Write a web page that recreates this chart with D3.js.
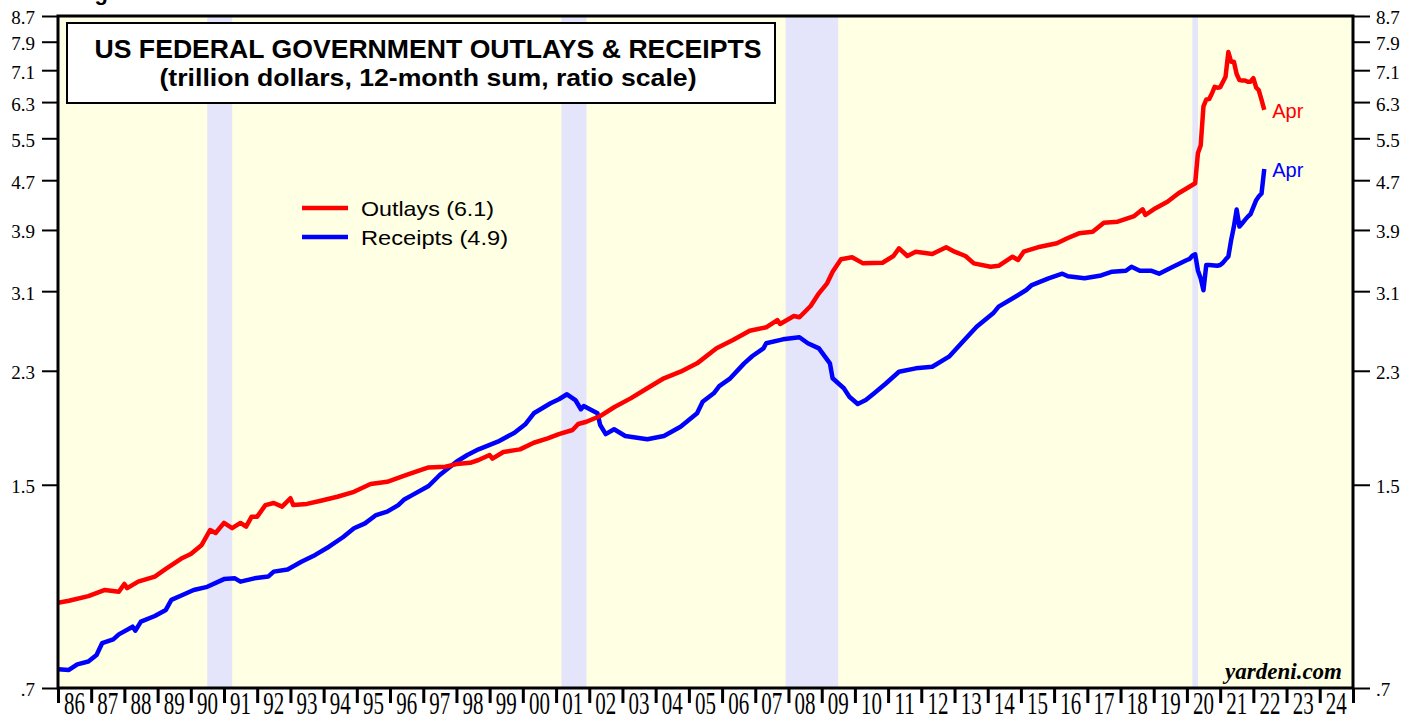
<!DOCTYPE html>
<html>
<head>
<meta charset="utf-8">
<script src="https://cdn.jsdelivr.net/npm/d3@7"></script>
<style>
  body { margin: 0; background: #fff; }
  svg { display: block; }
</style>
</head>
<body>
<script>
// 12-month sums, trillion dollars (month of the reading)
const outlayMonths = ["1985-12","1986-04","1986-11","1987-05","1987-10","1987-12","1988-01","1988-05","1988-11","1989-03","1989-09","1989-12",
  "1990-04","1990-07","1990-09","1990-12","1991-03","1991-06","1991-08","1991-10","1991-12","1992-03","1992-06","1992-09","1992-12",
  "1993-01","1993-06","1993-11","1994-05","1994-11","1995-05","1995-11","1996-06","1996-11","1997-02","1997-08","1997-12","1998-05",
  "1998-08","1998-12","1999-01","1999-05","1999-11","2000-04","2000-09","2001-01","2001-06","2001-08","2001-11","2002-04","2002-09",
  "2003-03","2003-09","2004-03","2004-09","2005-03","2005-10","2006-04","2006-10","2007-04","2007-08","2007-09","2008-02","2008-04",
  "2008-08","2008-11","2009-02","2009-04","2009-07","2009-11","2010-03","2010-10","2011-02","2011-04","2011-07","2011-10","2012-04",
  "2012-09","2012-12","2013-04","2013-07","2014-01","2014-04","2014-09","2014-11","2015-01","2015-07","2016-01","2016-05","2016-09",
  "2017-02","2017-06","2017-11","2018-05","2018-08","2018-09","2018-12","2019-05","2019-09","2020-02","2020-03","2020-04","2020-05",
  "2020-06","2020-07","2020-08","2020-09","2020-10","2020-11","2020-12","2021-01","2021-02","2021-03","2021-04","2021-05","2021-06",
  "2021-07","2021-08","2021-09","2021-10","2021-11","2021-12","2022-01","2022-02","2022-03","2022-04"];
const outlayValues = [0.964,0.971,0.988,1.011,1.004,1.034,1.018,1.043,1.063,1.094,1.140,1.157,
  1.197,1.266,1.252,1.300,1.275,1.300,1.282,1.331,1.331,1.390,1.401,1.382,1.426,
  1.390,1.396,1.413,1.434,1.461,1.504,1.517,1.556,1.585,1.601,1.605,1.621,1.629,
  1.646,1.677,1.654,1.696,1.713,1.756,1.785,1.814,1.842,1.884,1.900,1.941,2.006,
  2.074,2.154,2.236,2.292,2.365,2.502,2.581,2.673,2.707,2.782,2.741,2.824,2.811,
  2.932,3.075,3.193,3.335,3.494,3.520,3.441,3.449,3.537,3.641,3.537,3.595,3.564,
  3.654,3.595,3.537,3.441,3.398,3.410,3.528,3.485,3.595,3.663,3.710,3.784,3.851,
  3.874,4.008,4.023,4.109,4.214,4.125,4.214,4.336,4.475,4.616,4.646,5.20,5.36,
  6.20,6.36,6.37,6.50,6.67,6.65,6.66,6.80,6.93,7.60,7.33,7.33,7.00,
  6.84,6.83,6.83,6.80,6.80,6.89,6.65,6.59,6.35,6.12];

const receiptMonths = ["1985-12","1986-04","1986-07","1986-11","1987-02","1987-04","1987-08","1987-10","1988-03","1988-04","1988-06","1988-11",
  "1989-03","1989-05","1989-09","1990-01","1990-06","1990-12","1991-04","1991-06","1991-11","1992-04","1992-06","1992-11","1993-04",
  "1993-09","1994-02","1994-07","1994-11","1995-03","1995-07","1995-11","1996-03","1996-05","1996-08","1997-02","1997-06","1997-12",
  "1998-04","1998-08","1999-03","1999-09","2000-01","2000-04","2000-10","2001-01","2001-04","2001-07","2001-09","2001-10","2002-03",
  "2002-04","2002-06","2002-09","2003-01","2003-09","2004-03","2004-09","2005-03","2005-05","2005-09","2005-11","2006-03","2006-08",
  "2006-11","2007-03","2007-04","2007-10","2008-04","2008-07","2008-11","2009-03","2009-04","2009-08","2009-10","2010-01","2010-04",
  "2010-07","2010-11","2011-04","2011-10","2012-04","2012-10","2013-03","2013-08","2014-02","2014-04","2014-10","2015-02","2015-04",
  "2015-10","2016-03","2016-05","2016-11","2017-05","2017-09","2018-02","2018-04","2018-07","2018-11","2019-02","2019-07","2019-12",
  "2020-01","2020-02","2020-03","2020-04","2020-05","2020-06","2020-07","2020-08","2020-11","2020-12","2021-01","2021-02","2021-03",
  "2021-04","2021-05","2021-06","2021-07","2021-08","2021-09","2021-10","2021-11","2021-12","2022-01","2022-02","2022-03","2022-04"];
const receiptValues = [0.751,0.749,0.765,0.773,0.792,0.828,0.840,0.856,0.881,0.868,0.898,0.917,
  0.938,0.974,0.992,1.011,1.023,1.053,1.056,1.043,1.056,1.063,1.083,1.092,1.124,
  1.153,1.189,1.232,1.274,1.298,1.339,1.356,1.390,1.418,1.443,1.493,1.556,1.635,
  1.677,1.713,1.763,1.823,1.884,1.961,2.036,2.067,2.106,2.061,1.991,2.015,1.961,
  1.877,1.814,1.847,1.801,1.779,1.801,1.865,1.961,2.048,2.114,2.172,2.236,2.365,
  2.431,2.502,2.550,2.588,2.608,2.550,2.502,2.365,2.236,2.154,2.087,2.031,2.061,
  2.114,2.189,2.292,2.321,2.335,2.425,2.565,2.713,2.853,2.925,3.036,3.114,3.172,
  3.253,3.310,3.278,3.253,3.288,3.335,3.347,3.398,3.347,3.347,3.310,3.398,3.485,
  3.50,3.54,3.56,3.35,3.25,3.11,3.42,3.42,3.41,3.42,3.45,3.49,3.53,
  3.75,3.95,4.21,3.95,4.00,4.05,4.10,4.14,4.25,4.36,4.42,4.47,4.90];

// recessions (first and last month)
const recessions = [["1990-07","1991-03"],["2001-03","2001-11"],["2007-12","2009-06"],["2020-03","2020-04"]];

const yTicks = [0.7, 1.5, 2.3, 3.1, 3.9, 4.7, 5.5, 6.3, 7.1, 7.9, 8.7];
const years = d3.range(1986, 2025);

const width = 1419;
const height = 717;
const plot = { left: 58, right: 1353, top: 16, bottom: 688 };

const sans = "'Liberation Sans', Arial, sans-serif";
const serif = "'Liberation Serif', 'Times New Roman', serif";

const parseMonth = d3.timeParse("%Y-%m");
// monthly values are plotted at the end of their month
const monthEnd = m => d3.timeMonth.offset(parseMonth(m), 1);

const x = d3.scaleTime()
    .domain([new Date(1986, 0, 1), new Date(2025, 0, 1)])
    .range([plot.left, plot.right]);

const y = d3.scaleLog()
    .domain([0.7, 8.7])
    .range([plot.bottom, plot.top]);

const svg = d3.select("body")
    .append("svg")
    .attr("width", width)
    .attr("height", height);

svg.append("defs").append("clipPath")
    .attr("id", "clip")
    .append("rect")
    .attr("x", plot.left)
    .attr("y", plot.top)
    .attr("width", plot.right - plot.left)
    .attr("height", plot.bottom - plot.top);

// cut-off figure caption at the very top
svg.append("text")
    .attr("x", 75)
    .attr("y", 0)
    .attr("font-family", sans)
    .attr("font-weight", "bold")
    .attr("font-size", 22)
    .text("Figure 3.");

// plot background
svg.append("rect")
    .attr("x", plot.left)
    .attr("y", plot.top)
    .attr("width", plot.right - plot.left)
    .attr("height", plot.bottom - plot.top)
    .attr("fill", "#ffffe3");

// recession shading
svg.append("g")
    .selectAll("rect")
    .data(recessions)
    .enter()
    .append("rect")
    .attr("x", d => x(parseMonth(d[0])))
    .attr("y", plot.top)
    .attr("width", d => x(monthEnd(d[1])) - x(parseMonth(d[0])))
    .attr("height", plot.bottom - plot.top)
    .attr("fill", "#e4e4fb");

const line = d3.line()
    .x(d => x(d.date))
    .y(d => y(d.value));

const outlays = outlayMonths.map((m, i) => ({ date: monthEnd(m), value: outlayValues[i] }));
const receipts = receiptMonths.map((m, i) => ({ date: monthEnd(m), value: receiptValues[i] }));

const lines = svg.append("g").attr("clip-path", "url(#clip)");

lines.append("path")
    .datum(receipts)
    .attr("fill", "none")
    .attr("stroke", "#0000ff")
    .attr("stroke-width", 4.5)
    .attr("stroke-linejoin", "round")
    .attr("d", line);

lines.append("path")
    .datum(outlays)
    .attr("fill", "none")
    .attr("stroke", "#ff0000")
    .attr("stroke-width", 4.5)
    .attr("stroke-linejoin", "round")
    .attr("d", line);

// "Apr" end labels
const lastOut = outlays[outlays.length - 1];
const lastRec = receipts[receipts.length - 1];
svg.append("text")
    .attr("x", x(lastOut.date) + 8)
    .attr("y", y(lastOut.value) + 8)
    .attr("font-family", sans)
    .attr("font-size", 20)
    .attr("fill", "#ff0000")
    .text("Apr");
svg.append("text")
    .attr("x", x(lastRec.date) + 8)
    .attr("y", y(lastRec.value) + 8)
    .attr("font-family", sans)
    .attr("font-size", 20)
    .attr("fill", "#0000ff")
    .text("Apr");

// frame
svg.append("rect")
    .attr("x", plot.left)
    .attr("y", plot.top)
    .attr("width", plot.right - plot.left)
    .attr("height", plot.bottom - plot.top)
    .attr("fill", "none")
    .attr("stroke", "#000")
    .attr("stroke-width", 3);

// y axes, both sides
const fmt = d => d3.format(".1f")(d).replace(/^0/, "");

const leftAxis = svg.append("g")
    .attr("transform", `translate(${plot.left},0)`)
    .call(d3.axisLeft(y).tickValues(yTicks).tickFormat(fmt).tickSize(16).tickPadding(7));

const rightAxis = svg.append("g")
    .attr("transform", `translate(${plot.right},0)`)
    .call(d3.axisRight(y).tickValues(yTicks).tickFormat(fmt).tickSize(17).tickPadding(6));

[leftAxis, rightAxis].forEach(a => {
    a.select(".domain").remove();
    a.selectAll(".tick line").attr("stroke", "#000").attr("stroke-width", 2);
    a.selectAll(".tick text")
        .attr("font-family", serif)
        .attr("font-size", 19)
        .attr("fill", "#000")
        .attr("dy", "0.42em");
});

// x axis: year ticks, labels centred in each year
const bottomAxis = svg.append("g")
    .attr("transform", `translate(0,${plot.bottom})`)
    .call(d3.axisBottom(x).ticks(d3.timeYear.every(1)).tickSize(15).tickFormat(""));
bottomAxis.select(".domain").remove();
bottomAxis.selectAll(".tick line").attr("stroke", "#000").attr("stroke-width", 3);

svg.append("g")
    .selectAll("text")
    .data(years)
    .enter()
    .append("text")
    .attr("transform", d => `translate(${(x(new Date(d, 0, 1)) + x(new Date(d + 1, 0, 1))) / 2},714) scale(1,1.5)`)
    .attr("text-anchor", "middle")
    .attr("font-family", serif)
    .attr("font-size", 21)
    .text(d => String(d).slice(2));

// title box
svg.append("rect")
    .attr("x", 67)
    .attr("y", 23)
    .attr("width", 708)
    .attr("height", 80)
    .attr("fill", "#fff")
    .attr("stroke", "#000")
    .attr("stroke-width", 2);

svg.append("text")
    .attr("x", 428)
    .attr("y", 58)
    .attr("text-anchor", "middle")
    .attr("font-family", sans)
    .attr("font-weight", "bold")
    .attr("font-size", 25)
    .attr("textLength", 667)
    .attr("lengthAdjust", "spacingAndGlyphs")
    .text("US FEDERAL GOVERNMENT OUTLAYS & RECEIPTS");

svg.append("text")
    .attr("x", 428)
    .attr("y", 86)
    .attr("text-anchor", "middle")
    .attr("font-family", sans)
    .attr("font-weight", "bold")
    .attr("font-size", 24)
    .attr("textLength", 537)
    .attr("lengthAdjust", "spacingAndGlyphs")
    .text("(trillion dollars, 12-month sum, ratio scale)");

// legend
const legend = svg.append("g");
[["Outlays (6.1)", "#ff0000", 208, 133], ["Receipts (4.9)", "#0000ff", 237, 147]].forEach(([label, color, ly, len]) => {
    legend.append("line")
        .attr("x1", 302)
        .attr("x2", 348)
        .attr("y1", ly)
        .attr("y2", ly)
        .attr("stroke", color)
        .attr("stroke-width", 4.5);
    legend.append("text")
        .attr("x", 361)
        .attr("y", ly + 8)
        .attr("font-family", sans)
        .attr("font-size", 21)
        .attr("textLength", len)
        .attr("lengthAdjust", "spacingAndGlyphs")
        .text(label);
});

svg.append("text")
    .attr("x", 1342)
    .attr("y", 679)
    .attr("text-anchor", "end")
    .attr("font-family", serif)
    .attr("font-weight", "bold")
    .attr("font-style", "italic")
    .attr("font-size", 23)
    .text("yardeni.com");
</script>
</body>
</html>
